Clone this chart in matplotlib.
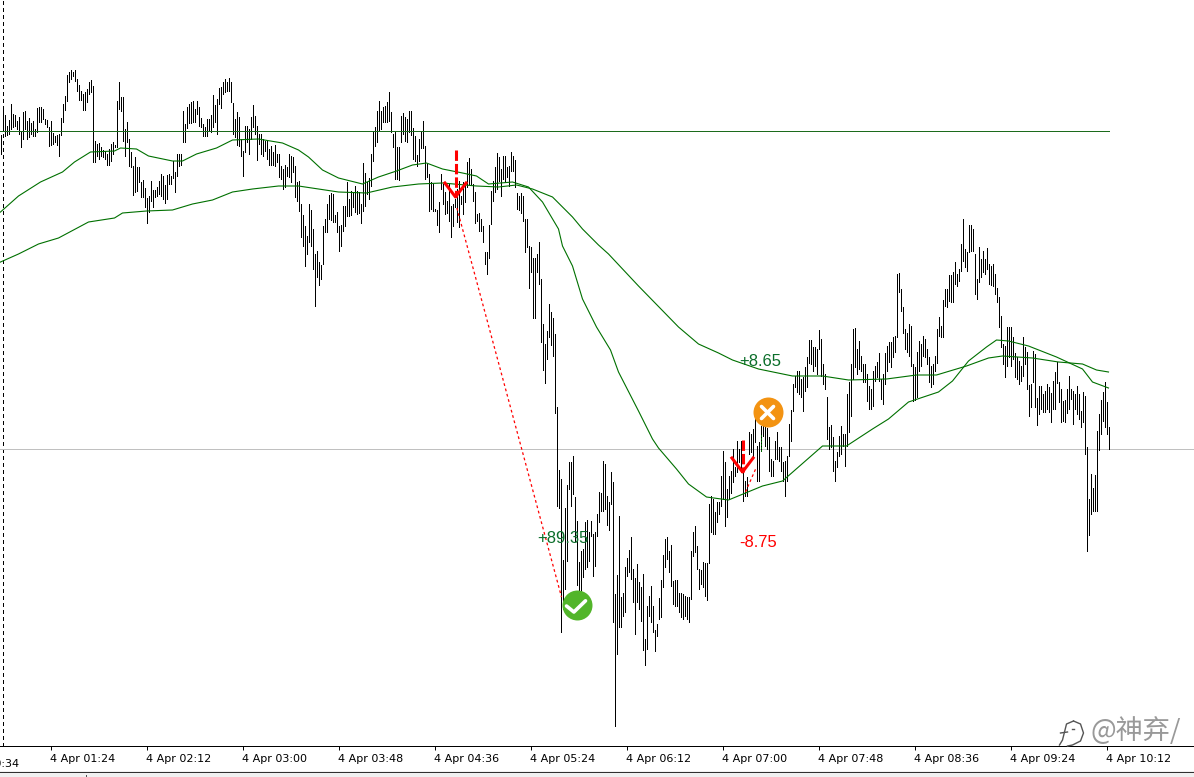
import numpy as np
import matplotlib
matplotlib.use("Agg")
import matplotlib.pyplot as plt
from matplotlib.lines import Line2D
from matplotlib.patches import Rectangle
from matplotlib.transforms import ScaledTranslation

# bar highs and lows, chart rows (no price scale is visible)
highs = [
    136, 111, 116, 127, 121, 105, 115, 116, 122, 118,
    132, 113, 112, 122, 119, 124, 122, 130, 109, 108,
    108, 110, 120, 121, 128, 122, 134, 137, 136, 135,
    119, 105, 97, 76, 73, 71, 73, 71, 80, 86,
    92, 95, 93, 90, 83, 81, 87, 142, 145, 144,
    148, 151, 152, 155, 150, 145, 143, 146, 102, 83,
    98, 98, 130, 123, 140, 153, 167, 158, 168, 168,
    183, 181, 189, 199, 197, 182, 191, 191, 188, 182,
    175, 177, 186, 176, 175, 177, 162, 173, 155, 155,
    155, 112, 125, 108, 105, 103, 102, 110, 102, 108,
    119, 125, 128, 120, 120, 116, 96, 106, 100, 89,
    88, 83, 80, 83, 79, 83, 104, 120, 113, 118,
    140, 152, 127, 127, 130, 118, 106, 117, 127, 135,
    135, 140, 142, 142, 150, 147, 153, 146, 155, 155,
    167, 170, 166, 168, 155, 157, 158, 167, 183, 182,
    205, 216, 227, 237, 205, 211, 230, 255, 252, 263,
    266, 227, 220, 205, 196, 194, 195, 216, 213, 227,
    226, 207, 207, 183, 200, 192, 193, 187, 192, 193,
    205, 164, 174, 183, 179, 155, 133, 128, 112, 102,
    112, 108, 107, 103, 93, 113, 135, 133, 148, 148,
    117, 114, 118, 120, 112, 112, 129, 137, 156, 140,
    133, 122, 147, 165, 175, 183, 185, 210, 211, 203,
    175, 185, 193, 202, 185, 207, 205, 200, 190, 182,
    197, 183, 183, 163, 159, 170, 185, 193, 215, 214,
    220, 227, 253, 253, 226, 192, 182, 168, 154, 158,
    170, 157, 157, 168, 167, 153, 157, 161, 194, 197,
    194, 197, 220, 220,
    247, 248, 259, 259, 255, 243, 280, 325, 345, 332, 305, 313, 319, 335,
    408, 471, 480, 561, 509, 486, 463, 463, 457, 498,
    522, 563, 552, 550, 523, 521, 533, 522, 535, 533,
    515, 493, 494, 462, 465, 497, 503, 473, 483, 595,
    576, 517, 598, 594, 568, 559, 551, 538, 570, 579,
    565, 583, 588, 575, 640, 607, 597, 587, 607, 631,
    625, 599, 581, 556, 540, 538, 552, 546, 582, 581,
    581, 594, 594, 595, 597, 598, 598, 552, 533, 527,
    547, 570, 571, 563, 564, 564, 505,
    497, 500, 513, 503, 503, 477, 452, 463, 490, 477,
    472, 450, 468, 442, 450, 442, 473, 482, 478, 433,
    435, 430, 416, 447, 443, 427, 422, 420, 429, 438,
    460, 462, 442, 433, 448, 448, 463, 462, 457, 425,
    411,
    385, 377, 372, 372, 380, 378, 368, 358, 341, 341,
    348, 348, 350, 331, 340, 365, 375,
    398, 428, 426, 438, 462, 453, 437, 427, 435, 435,
    395, 383, 365, 330, 329, 350, 342, 357, 365, 365,
    375, 387, 390, 372, 367, 363, 354, 380, 375, 354,
    347, 343, 343, 338, 337, 275, 274, 290, 308, 330,
    334, 325, 327, 365, 368, 353, 342, 345, 337, 340,
    350, 358, 367, 365, 357, 330, 318, 327, 301, 290,
    290, 276, 276, 273, 263, 275, 270, 245, 220, 250,
    253, 226, 226, 230, 255, 280, 248, 260, 252, 260,
    249, 265, 267, 265, 275, 289, 298, 317, 345, 347,
    328, 328,
    328, 338, 354, 358, 362, 367, 338, 348, 353, 386,
    385, 352, 355, 399, 387, 387, 395, 392, 385, 388,
    394, 382, 373, 363, 383, 390, 402, 401, 390, 377,
    390, 392, 395, 387, 395, 412, 393, 397, 448, 500,
    475, 489, 476, 432, 415, 401, 393, 383, 403, 428,
]
lows = [
    155, 132, 137, 136, 135, 130, 128, 127, 130, 135,
    148, 140, 130, 140, 138, 135, 137, 137, 133, 123,
    123, 120, 125, 128, 147, 146, 145, 143, 146, 157,
    136, 123, 111, 102, 83, 80, 77, 82, 92, 101,
    101, 111, 111, 103, 95, 93, 163, 163, 157, 160,
    157, 158, 160, 166, 166, 162, 155, 148, 148, 110,
    112, 142, 157, 143, 167, 168, 196, 193, 192, 183,
    198, 198, 208, 224, 213, 202, 208, 198, 197, 195,
    197, 200, 204, 200, 185, 185, 179, 193, 177, 167,
    166, 143, 143, 129, 124, 124, 123, 123, 115, 127,
    128, 137, 137, 137, 132, 133, 128, 123, 135, 105,
    109, 95, 93, 92, 92, 103, 135, 138, 146, 147,
    157, 177, 153, 143, 155, 140, 128, 135, 161, 145,
    155, 157, 152, 160, 166, 166, 166, 167, 163, 178,
    180, 190, 188, 177, 178, 183, 173, 198, 202, 212,
    238, 247, 267, 255, 243, 247, 270, 307, 278, 286,
    280, 265, 233, 233, 220, 221, 223, 223, 233, 252,
    247, 232, 227, 217, 217, 216, 208, 213, 215, 214,
    224, 212, 207, 195, 200, 187, 162, 147, 143, 132,
    130, 123, 123, 123, 122, 133, 148, 180, 180, 181,
    143, 135, 142, 143, 133, 136, 160, 162, 167, 162,
    149, 149, 180, 178, 212, 210, 212, 212, 226, 233,
    190, 205, 215, 214, 222, 238, 227, 208, 223, 228,
    205, 215, 203, 188, 185, 185, 202, 224, 222, 232,
    232, 243, 265, 275, 259, 225, 202, 193, 190, 182,
    197, 180, 183, 178, 187, 172, 172, 188, 210, 211,
    214, 222, 253, 248,
    289, 273, 319, 319, 273, 285, 343, 371, 384, 360, 338, 346, 357, 414,
    507, 509, 633, 610, 590, 562, 490, 507, 495, 542,
    586, 593, 592, 578, 570, 568, 562, 537, 577, 567,
    537, 523, 512, 512, 510, 526, 531, 505, 623, 727,
    655, 628, 628, 617, 613, 577, 573, 580, 603, 635,
    603, 610, 622, 651, 666, 650, 617, 623, 633, 652,
    637, 620, 618, 588, 568, 560, 573, 587, 605, 607,
    607, 613, 618, 620, 617, 620, 623, 600, 557, 553,
    570, 590, 585, 588, 597, 601, 564,
    533, 535, 535, 523, 515, 507, 500, 527, 518, 500,
    494, 483, 477, 473, 463, 473, 502, 497, 497, 455,
    453, 457, 443, 482, 482, 452, 437, 447, 450, 472,
    477, 477, 460, 460, 462, 472, 482, 497, 482, 457,
    442,
    412, 388, 393, 395, 398, 412, 392, 388, 364, 365,
    372, 367, 375, 350, 377, 385, 390,
    440, 450, 448, 472, 482, 468, 457, 455, 447, 467,
    447, 433, 417, 380, 368, 375, 370, 372, 383, 383,
    402, 410, 410, 407, 382, 378, 382, 400, 405, 385,
    372, 363, 368, 358, 353, 338, 293, 312, 334, 350,
    353, 357, 367, 402, 401, 398, 372, 367, 357, 358,
    365, 383, 388, 385, 372, 364, 337, 338, 338, 307,
    308, 302, 303, 303, 285, 287, 282, 272, 262, 268,
    272, 253, 252, 252, 295, 300, 283, 278, 273, 275,
    270, 285, 286, 287, 295, 303, 328, 348, 365, 378,
    367, 358,
    367, 360, 378, 380, 385, 382, 377, 365, 390, 417,
    408, 383, 408, 426, 415, 410, 413, 413, 410, 413,
    423, 410, 410, 384, 403, 423, 422, 423, 414, 410,
    400, 425, 410, 415, 420, 428, 423, 455, 552, 536,
    515, 512, 512, 512, 451, 435, 422, 428, 435, 450,
]

# moving averages, read at the bends
fast_bars = [-1, 0, 9, 20, 31, 37, 45, 57, 60, 68, 74, 86, 91, 98, 108, 116, 129, 141, 149,
             154, 161, 169, 181, 189, 198, 206, 213, 221, 231, 238, 244, 256, 264, 271, 279,
             281, 286, 291, 298, 305, 309, 319, 326, 329, 338, 344, 353, 364, 381, 391, 399,
             411, 423, 436, 444, 454, 469, 476, 484, 493, 498, 504, 514, 528, 541, 546, 554]
fast_ma = [214, 213, 197, 183, 173, 163, 153, 152, 149, 150, 157, 162, 162, 155, 149, 141, 140, 144, 151,
           158, 171, 179, 185, 178, 172, 166, 164, 170, 174, 177, 185, 183, 188, 203, 230,
           247, 267, 300, 328, 351, 373, 412, 440, 449, 470, 485, 498, 501, 487, 482, 468,
           447, 447, 430, 420, 403, 393, 382, 362, 348, 341, 342, 347, 358, 370, 383, 389]
slow_bars = [-1, 0, 9, 19, 29, 44, 57, 61, 73, 86, 96, 106, 116, 126, 139, 149, 159, 169, 183,
             196, 209, 221, 238, 249, 258, 266, 276, 286, 291, 299, 304, 319, 339, 349, 359,
             366, 379, 396, 411, 424, 443, 458, 468, 483, 494, 501, 516, 529, 541, 548, 554]
slow_ma = [264, 263, 255, 245, 239, 223, 219, 214, 212, 211, 205, 201, 193, 190, 187, 187, 190, 193, 194,
           188, 185, 184, 187, 188, 186, 190, 198, 218, 230, 246, 255, 287, 328, 345, 354,
           361, 370, 377, 377, 381, 380, 376, 376, 367, 359, 357, 359, 363, 365, 371, 373]

tick_bars = [25, 73, 121, 169, 217, 265, 313, 361, 409, 457, 505, 553]
tick_labels = ["4 Apr 01:24", "4 Apr 02:12", "4 Apr 03:00", "4 Apr 03:48", "4 Apr 04:36", "4 Apr 05:24",
               "4 Apr 06:12", "4 Apr 07:00", "4 Apr 07:48", "4 Apr 08:36", "4 Apr 09:24", "4 Apr 10:12"]

PX = 0.72  # one pixel in points at 100 dpi
GREEN = "#007000"
RED = "#ff0000"
TEXT_GREEN = "#0b6e2a"

fig = plt.figure(figsize=(11.94, 7.77), dpi=100, facecolor="white")
ax = fig.add_axes([0, 31 / 777, 1, 746 / 777])
ax.set_xlim(-0.25, 596.75)
ax.set_ylim(747, 1)

ax.axvline(1, color="black", lw=PX, ls=(0, (3, 3)), antialiased=False, zorder=1)
ax.axhline(450, color="#c0c0c0", lw=PX, antialiased=False, zorder=1)
ax.plot([-1, 554], [132, 132], color="#1c6b1c", lw=PX, antialiased=False, zorder=4)

bars = np.arange(len(highs))
ax.vlines(bars, highs, lows, color="black", lw=PX, antialiased=False, zorder=2)

ax.plot(fast_bars, fast_ma, color=GREEN, lw=0.8, zorder=3)
ax.plot(slow_bars, slow_ma, color=GREEN, lw=0.8, zorder=3)

# trade connectors
ax.plot([228.2, 280.5], [209, 598], color=RED, lw=0.9, ls=(0, (2.2, 2.2)), zorder=5)
ax.plot([372.5, 378], [493, 468], color=RED, lw=0.9, ls=(0, (2.2, 2.2)), zorder=5)
ax.plot([380, 380], [436, 453], color="#006400", lw=PX, ls=(0, (2, 2)), antialiased=False, zorder=5)

# sell arrows
for bar, top, tip in [(227.5, 151, 198), (371, 441, 473)]:
    ax.plot([bar, bar], [top, tip], color=RED, lw=2.2, ls=(0, (3.4, 1)), zorder=6)
    ax.plot([bar - 5.3, bar, bar + 5.3], [tip - 14, tip, tip - 14], color=RED, lw=2.2, zorder=6)

# profit and loss badges
ax.scatter([288], [606.5], s=466, color="#52b52a", lw=0, zorder=7)
ax.plot([283, 286.7, 292.5], [607, 613, 601.8], color="white", lw=2.6, solid_capstyle="round",
        solid_joinstyle="round", zorder=8)
ax.scatter([383.5], [413.5], s=466, color="#f39312", lw=0, zorder=7)
ax.plot([380.5, 386.5], [407.5, 419.5], color="white", lw=2.6, solid_capstyle="round", zorder=8)
ax.plot([380.5, 386.5], [419.5, 407.5], color="white", lw=2.6, solid_capstyle="round", zorder=8)

ax.text(369.5, 363, "+8.65", color=TEXT_GREEN, fontsize=12, family="Liberation Sans", va="center", zorder=9)
ax.text(268.5, 540, "+89.35", color=TEXT_GREEN, fontsize=12, family="Liberation Sans", va="center", zorder=9)
ax.text(369.5, 544, "-8.75", color=RED, fontsize=12, family="Liberation Sans", va="center", zorder=9)

for side in ["top", "left", "right"]:
    ax.spines[side].set_visible(False)
ax.spines["bottom"].set_linewidth(PX)
ax.set_yticks([])
ax.set_xticks(tick_bars)
ax.set_xticklabels(tick_labels, fontsize=8, color="black", ha="left")
ax.tick_params(axis="x", length=2.9, width=PX, pad=3)
shift = ScaledTranslation(-0.5 / 100, 0, fig.dpi_scale_trans)
for label in ax.get_xticklabels():
    label.set_transform(label.get_transform() + shift)
# the label left of the first tick is cut by the window edge
ax.annotate("4 Apr 00:34", xy=(-23, 0), xycoords=ax.get_xaxis_transform(), xytext=(-0.5, -15.3),
            textcoords="offset points", fontsize=8, ha="left", va="baseline", annotation_clip=False)

# window strip under the axis
fig.add_artist(Rectangle((0, 0), 1, 6 / 777, transform=fig.transFigure, facecolor="#f0f0f0", edgecolor="none"))
fig.add_artist(Line2D([0, 1], [5.5 / 777, 5.5 / 777], color="#303030", lw=PX, antialiased=False))
fig.add_artist(Line2D([85.5 / 1194, 85.5 / 1194], [0, 2 / 777], color="#505050", lw=PX, antialiased=False))

# watermark
wm_bars = lambda xs: (np.array(xs) - 1) / 2
ax.plot(wm_bars([1074, 1067, 1065, 1063, 1060]), [722, 725, 733, 741, 746], color="#555555", lw=1, clip_on=False, zorder=9)
ax.plot(wm_bars([1074, 1081, 1084, 1081, 1073, 1068]), [722, 725, 734, 742, 746, 747], color="#555555", lw=1, clip_on=False, zorder=9)
ax.plot(wm_bars([1061, 1068]), [734, 733], color="#555555", lw=1, zorder=9)
ax.plot(wm_bars([1072, 1074]), [730, 730], color="#555555", lw=1, zorder=9)
ax.text(545, 732, "@神弃/", color="#999999", fontsize=19.5, va="center",
        family=["Noto Sans CJK SC", "DejaVu Sans"], zorder=9)

fig.savefig("out.png", dpi=100)
